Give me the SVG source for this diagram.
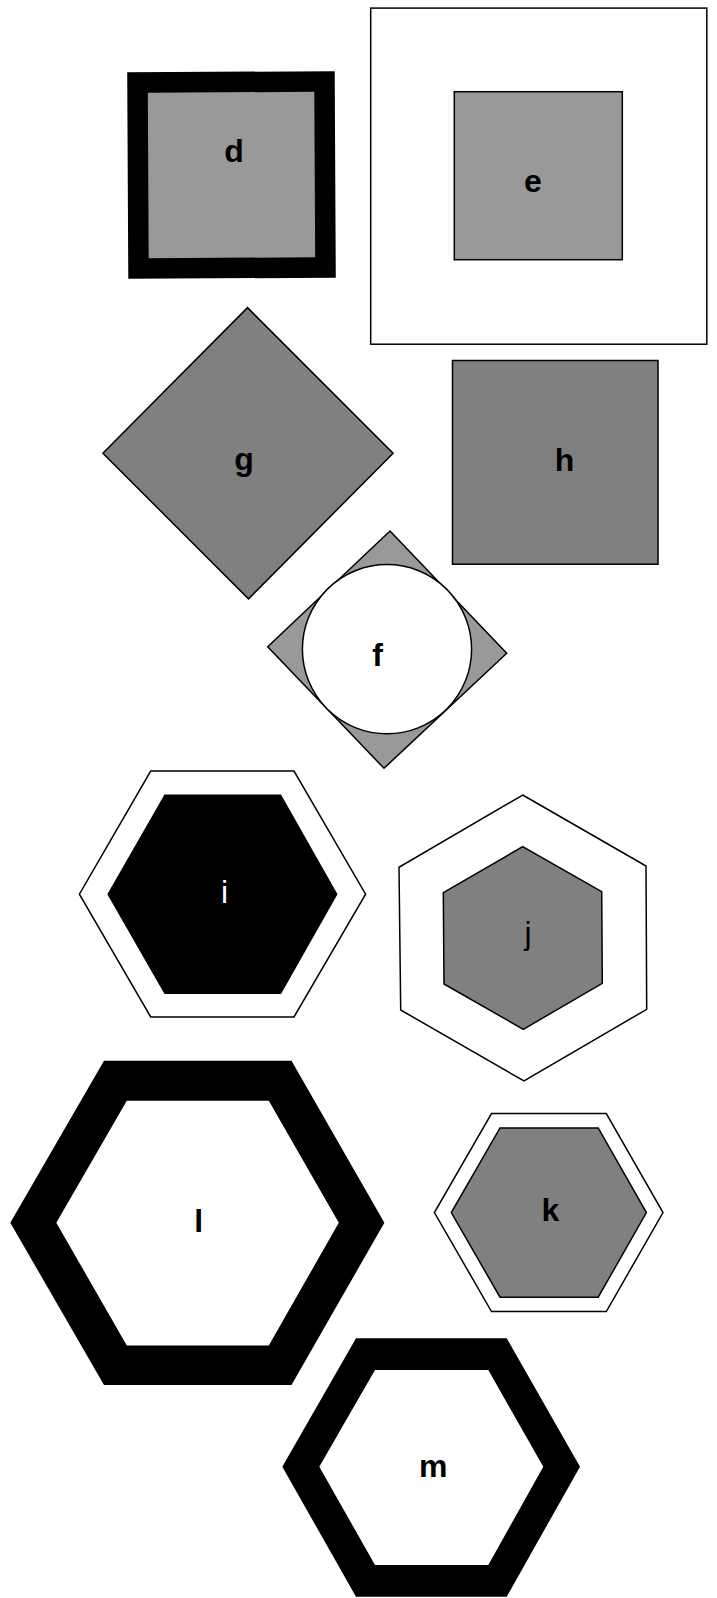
<svg xmlns="http://www.w3.org/2000/svg" width="717" height="1598" viewBox="0 0 717 1598">
<style>
.lbl{font-family:"Liberation Sans",Arial,sans-serif;font-size:32px;font-weight:bold;text-anchor:middle;fill:#000}
.reg{font-weight:normal}
.thin{stroke:#000;stroke-width:1.5}
.g1{fill:#999999}
.g2{fill:#808080}
.wh{fill:#ffffff}
</style>
<rect x="0" y="0" width="717" height="1598" fill="#ffffff"/>
<g id="connectors"/>
<g id="node-d">
<rect x="138" y="82" width="187" height="186" class="g1" stroke="#000" stroke-width="20.5" transform="rotate(-0.3 231.5 175)"/>
<text class="lbl" x="234" y="162">d</text>
</g>
<g id="node-e">
<rect x="370.7" y="8.1" width="336.1" height="336.1" class="wh thin"/>
<rect x="454.3" y="91.7" width="168" height="168" class="g1 thin"/>
<text class="lbl" x="533" y="192">e</text>
</g>
<g id="node-g">
<polygon points="247.5,307.6 393.1,453.2 248.5,598.9 102.9,453.2" class="g2 thin"/>
<text class="lbl" x="244" y="470">g</text>
</g>
<g id="node-h">
<rect x="452.5" y="360.5" width="205.5" height="203.7" class="g2 thin"/>
<text class="lbl" x="564.5" y="471">h</text>
</g>
<g id="node-f">
<polygon points="390,531 506.7,653.3 384,768.3 267.7,646.7" class="g1 thin"/>
<circle cx="387" cy="649.2" r="84.6" class="wh thin"/>
<text class="lbl" x="377.7" y="666">f</text>
</g>
<g id="node-i">
<polygon points="150.7,771 294,771 365.6,894.2 294,1017 150.7,1017 79.4,894.2" class="wh thin"/>
<polygon points="164.5,794.5 281,794.5 337.5,894.2 281,994 164.5,994 107.3,894.2" fill="#000"/>
<text class="lbl reg" x="224.5" y="903" style="fill:#fff">i</text>
</g>
<g id="node-j">
<polygon points="522.7,795 646,866 646.7,1009.3 524,1081 400.7,1010 399,867.3" class="wh thin"/>
<polygon points="522.7,846.7 601.7,891.7 602.3,983.3 523.3,1029.3 444,984 443.3,892.7" class="g2 thin"/>
<text class="lbl reg" x="528" y="944">j</text>
</g>
<g id="node-k">
<polygon points="491.5,1113.6 606.3,1113.6 663,1212.6 606.3,1311.5 491.5,1311.5 434.4,1212.6" class="wh thin"/>
<polygon points="500,1128 598.2,1128 646.4,1212.6 598.2,1297.2 500,1297.2 451.3,1212.6" class="g2 thin"/>
<text class="lbl" x="550.4" y="1221">k</text>
</g>
<g id="node-l">
<path d="M104,1060.8 L291.5,1060.8 L384.4,1222.7 L291.5,1385 L104,1385 L10.3,1222.7 Z M126.8,1100.7 L56.3,1222.7 L126.8,1345.5 L268.8,1345.5 L338.8,1222.7 L268.8,1100.7 Z" fill="#000" fill-rule="evenodd"/>
<text class="lbl" x="198.7" y="1232">l</text>
</g>
<g id="node-m">
<path d="M356,1338.3 L506.7,1338.3 L580,1466.7 L506.7,1596.7 L356,1596.7 L282.3,1466.7 Z M375,1370 L319.3,1466.7 L375,1565 L488.3,1565 L543.3,1466.7 L488.3,1370 Z" fill="#000" fill-rule="evenodd"/>
<text class="lbl" x="433.3" y="1477">m</text>
</g>
</svg>
